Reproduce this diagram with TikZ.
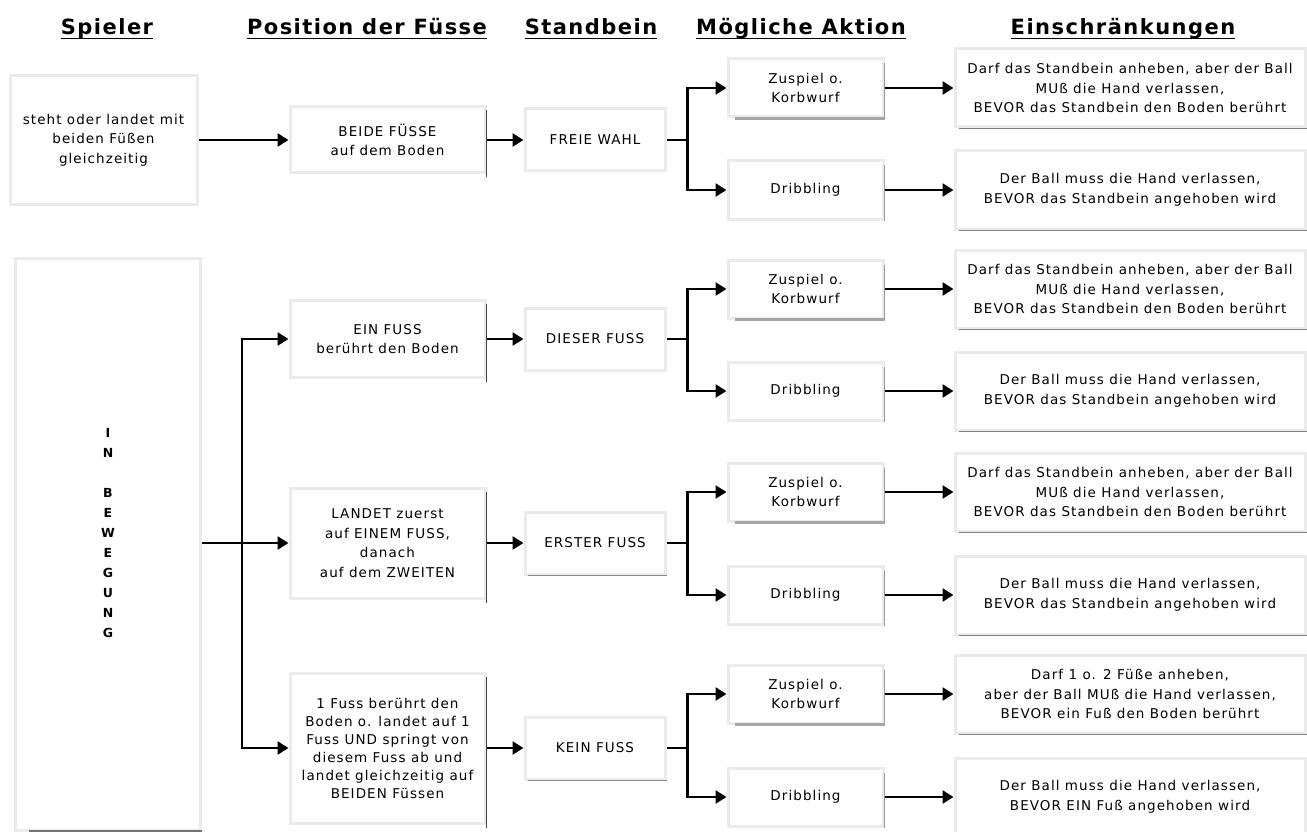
\documentclass[tikz,border=0pt]{standalone}
\usepackage{fontspec}
\setmainfont{DejaVu Sans}
\newfontfamily\bodyf{DejaVu Sans}[LetterSpace=8]
\newfontfamily\headf{DejaVu Sans}[LetterSpace=7]
\usetikzlibrary{arrows.meta}
\begin{document}
\begin{tikzpicture}[x=1pt,y=-1pt,
  ln/.style={line width=2.5pt, black},
  arr/.style={ln, -{Triangle[length=11pt,width=13pt]}},
  bx/.style={draw=black!8, line width=3pt, fill=white, align=center, inner sep=0pt,
    font={\bodyf\fontsize{13.5}{19.5}\selectfont}, text=black},
  txt/.style={align=center, inner sep=0pt, font={\bodyf\fontsize{13.5}{19.5}\selectfont}, text=black},
  hd/.style={font={\headf\bfseries\fontsize{21}{24}\selectfont}, anchor=base, inner sep=0pt, text=black},
  posbox/.style={bx, minimum width=195pt},
  stbox/.style={bx, minimum width=140pt, minimum height=62pt},
  actbox/.style={bx, minimum width=155pt, minimum height=58pt},
  resbox/.style={bx, minimum width=350pt, minimum height=78pt}
]
\useasboundingbox (0,0) rectangle (1307,832);

% headers
\node[hd] (h1) at (107,35) {Spieler};
\node[hd] (h2) at (367,35) {Position der Füsse};
\node[hd] (h3) at (591,35) {Standbein};
\node[hd] (h4) at (801,35) {Mögliche Aktion};
\node[hd] (h5) at (1123,35) {Einschränkungen};
\foreach \h in {h1,h2,h3,h4,h5}
  \draw[line width=1.8pt] ([yshift=-3.5pt]\h.base west) -- ([yshift=-3.5pt]\h.base east);

% Spieler
\node[bx, minimum width=187pt, minimum height=128pt] (sp1) at (103.5,140)
  {steht oder landet mit\\beiden Füßen\\gleichzeitig};
\node[bx, minimum width=185pt, minimum height=572pt] (sp2) at (107.5,544) {};
\node[txt, font={\bodyf\bfseries\fontsize{12.5}{20}\selectfont}] (bw) at (108,533)
  {I\\N\\[20pt]B\\E\\W\\E\\G\\U\\N\\G};
\draw[black!55, line width=3pt] ([xshift=15pt]sp2.south west) -- (sp2.south east);

% Position der Fuesse
\node[posbox, minimum height=66pt] (p1) at (387.5,140) {BEIDE FÜSSE\\auf dem Boden};
\node[posbox, minimum height=77pt] (p2) at (387.5,339) {EIN FUSS\\berührt den Boden};
\node[posbox, minimum height=110pt] (p3) at (387.5,543) {LANDET zuerst\\auf EINEM FUSS,\\danach\\auf dem ZWEITEN};
\node[posbox, minimum height=150pt, font={\bodyf\fontsize{13.5}{18}\selectfont}] (p4) at (387.5,748)
  {1 Fuss berührt den\\Boden o. landet auf 1\\Fuss UND springt von\\diesem Fuss ab und\\landet gleichzeitig auf\\BEIDEN Füssen};
\foreach \n in {p1,p2,p3,p4}
  \draw[black!75, line width=1pt] ([yshift=-5pt]\n.north east) -- ([yshift=-3pt]\n.south east);

% Standbein
\node[stbox] (st1) at (595,140) {FREIE WAHL};
\node[stbox] (st2) at (595,339) {DIESER FUSS};
\node[stbox] (st3) at (595,543) {ERSTER FUSS};
\node[stbox] (st4) at (595,748) {KEIN FUSS};
\foreach \n in {st3,st4}
  \draw[black!45, line width=1pt] ([xshift=4pt]\n.south west) -- (\n.south east);

% Moegliche Aktion
\node[actbox] (az1) at (805.5,88)  {Zuspiel o.\\Korbwurf};
\node[actbox] (ad1) at (805.5,190) {Dribbling};
\node[actbox] (az2) at (805.5,289) {Zuspiel o.\\Korbwurf};
\node[actbox] (ad2) at (805.5,391) {Dribbling};
\node[actbox] (az3) at (805.5,492) {Zuspiel o.\\Korbwurf};
\node[actbox] (ad3) at (805.5,595) {Dribbling};
\node[actbox] (az4) at (805.5,694) {Zuspiel o.\\Korbwurf};
\node[actbox] (ad4) at (805.5,797) {Dribbling};
\foreach \n in {az1,az2,az3,az4}
  \draw[black!35, line width=3pt] ([xshift=8pt]\n.south west) -- (\n.south east);
\foreach \n in {az1,ad1,az2,ad2,az3,ad3,az4,ad4}
  \draw[black!40, line width=0.8pt] ([yshift=-6pt]\n.north east) -- (\n.south east);

% Einschraenkungen
\node[resbox] (rz1) at (1130,88)  {Darf das Standbein anheben, aber der Ball\\MUß die Hand verlassen,\\BEVOR das Standbein den Boden berührt};
\node[resbox] (rd1) at (1130,190) {Der Ball muss die Hand verlassen,\\BEVOR das Standbein angehoben wird};
\node[resbox] (rz2) at (1130,289) {Darf das Standbein anheben, aber der Ball\\MUß die Hand verlassen,\\BEVOR das Standbein den Boden berührt};
\node[resbox] (rd2) at (1130,391) {Der Ball muss die Hand verlassen,\\BEVOR das Standbein angehoben wird};
\node[resbox] (rz3) at (1130,492) {Darf das Standbein anheben, aber der Ball\\MUß die Hand verlassen,\\BEVOR das Standbein den Boden berührt};
\node[resbox] (rd3) at (1130,595) {Der Ball muss die Hand verlassen,\\BEVOR das Standbein angehoben wird};
\node[resbox] (rz4) at (1130,694) {Darf 1 o. 2 Füße anheben,\\aber der Ball MUß die Hand verlassen,\\BEVOR ein Fuß den Boden berührt};
\node[resbox] (rd4) at (1130,797) {Der Ball muss die Hand verlassen,\\BEVOR EIN Fuß angehoben wird};
\foreach \n in {rz1,rd1,rz2,rd2,rz3,rd3,rz4,rd4}
  \draw[black!50, line width=1.2pt] ([xshift=5pt]\n.south west) -- (\n.south east);

% connectors: Spieler -> Position
\draw[arr] (sp1.east) -- (sp1.east -| p1.west);
\coordinate (vx) at (242,543);
\draw[arr] (sp2.east |- p3.west) -- (p3.west);
\draw[arr] (vx) |- (p2.west);
\draw[arr] (vx) |- (p4.west);

% Position -> Standbein
\foreach \i in {1,2,3,4}
  \draw[arr] (p\i.east) -- (p\i.east -| st\i.west);

% Standbein -> Aktion
\foreach \i in {1,2,3,4} {
  \draw[ln] (st\i.east) -- ++(21,0) coordinate (j\i);
  \draw[arr] (j\i) |- (az\i.west);
  \draw[arr] (j\i) |- (ad\i.west);
}

% Aktion -> Einschraenkungen
\foreach \n/\m in {az1/rz1,ad1/rd1,az2/rz2,ad2/rd2,az3/rz3,ad3/rd3,az4/rz4,ad4/rd4}
  \draw[arr] (\n.east) -- (\n.east -| \m.west);
\end{tikzpicture}
\end{document}
